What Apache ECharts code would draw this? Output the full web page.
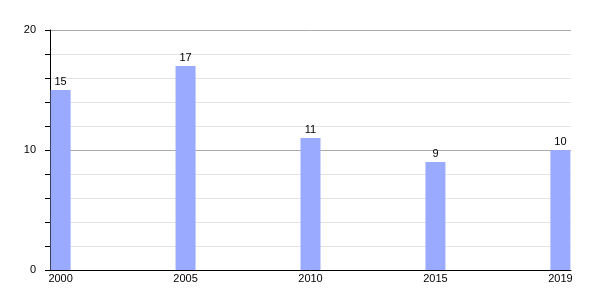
<!DOCTYPE html>
<html><head><meta charset="utf-8">
<script src="https://cdn.jsdelivr.net/npm/echarts@6/dist/echarts.min.js"></script>
<style>html,body{margin:0;padding:0;background:#fff}#c{width:600px;height:300px}</style>
</head><body><div id="c"></div>
<script>
var categories = ['2000', '2005', '2010', '2015', '2019'];
var values = [15, 17, 11, 9, 10];
var yTicks = [0, 10, 20];

var chart = echarts.init(document.getElementById('c'), null, {renderer: 'canvas'});
var font = 'Liberation Sans, Arial, sans-serif';
chart.setOption({
  animation: false,
  grid: {left: 50, right: 29, top: 30, bottom: 30},
  xAxis: {
    type: 'value',
    min: -0.085, max: 4.085,
    axisLine: {show: true, onZero: false, lineStyle: {color: '#000', width: 1}},
    axisTick: {show: false},
    splitLine: {show: false},
    axisLabel: {
      customValues: [0, 1, 2, 3, 4],
      formatter: function (v) { return categories[Math.round(v)]; },
      color: '#000', fontSize: 11, fontFamily: font, margin: 3
    }
  },
  yAxis: {
    type: 'value',
    min: yTicks[0], max: yTicks[yTicks.length - 1], interval: 10,
    axisLine: {show: true, onZero: false, lineStyle: {color: '#000', width: 1}},
    axisTick: {show: true, length: 5, lineStyle: {color: '#000'}},
    minorTick: {show: true, splitNumber: 5, length: 5, lineStyle: {color: '#000'}},
    splitLine: {show: true, lineStyle: {color: '#aaaaaa', width: 1}},
    minorSplitLine: {show: true, lineStyle: {color: '#e4e4e4', width: 1}},
    axisLabel: {color: '#000', fontSize: 11, fontFamily: font, margin: 14}
  },
  series: [{
    type: 'bar',
    barWidth: 20,
    data: values.map(function (v, i) { return [i, v]; }),
    itemStyle: {color: '#99aaff'},
    label: {show: true, position: 'top', distance: 3, color: '#000', fontSize: 11, fontFamily: font,
      formatter: function (p) { return p.value[1]; }}
  }]
});
</script></body></html>
